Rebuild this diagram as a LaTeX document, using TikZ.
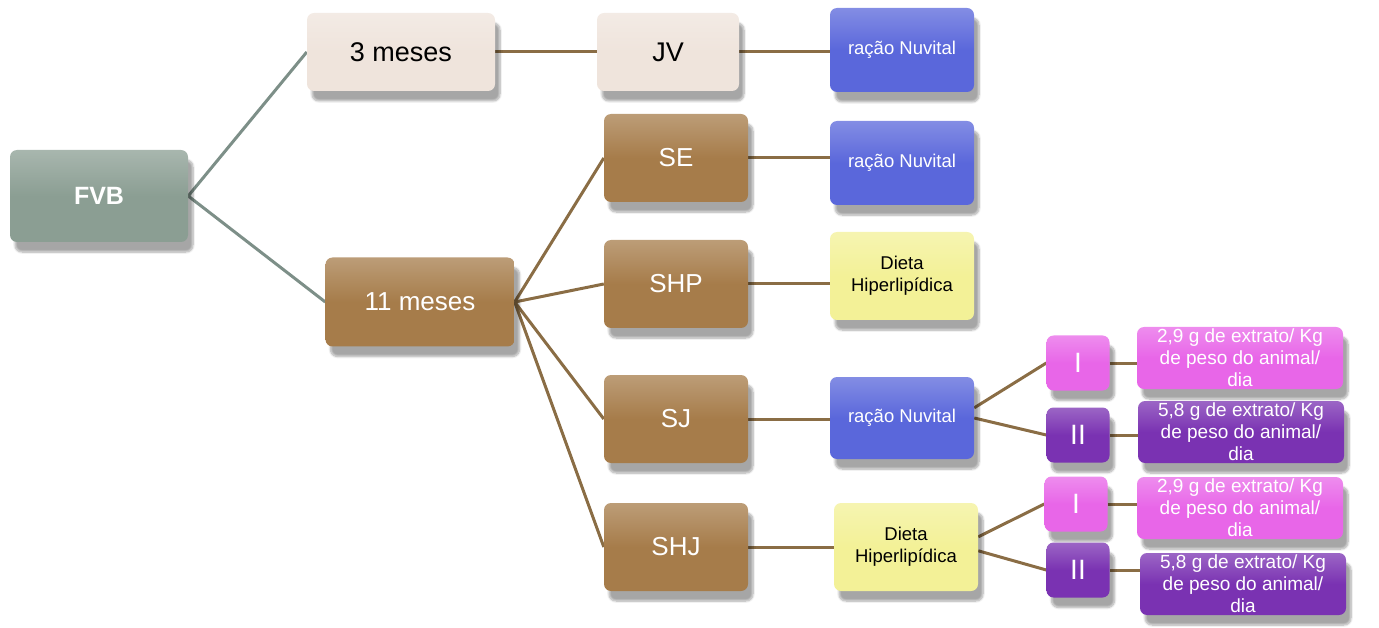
\documentclass[tikz,border=0pt]{standalone}
\usepackage{fontspec}
\setmainfont{Liberation Sans}
\usetikzlibrary{shadows.blur,backgrounds}

\definecolor{fvbgreen}{HTML}{8B9E93}
\definecolor{beige}{HTML}{EFE4DC}
\definecolor{tan}{HTML}{A67C4A}
\definecolor{nuvblue}{HTML}{5A67DB}
\definecolor{dietyellow}{HTML}{F3F197}
\definecolor{dosepink}{HTML}{E866E8}
\definecolor{dosepurple}{HTML}{7A32B2}
\definecolor{greenline}{HTML}{7D8F88}
\definecolor{brownline}{HTML}{8A6D45}

\begin{document}
\begin{tikzpicture}[
  x=1pt,y=-1pt,
  box/.style={rounded corners=7pt,inner sep=0pt,align=center,
    blur shadow={shadow xshift=5pt,shadow yshift=-10pt,shadow blur steps=8,shadow opacity=35}},
  glossy/.style={box,top color=#1!75!white,bottom color=#1,middle color=#1},
  root/.style={glossy=fvbgreen,text=white,font=\fontsize{25}{28}\selectfont\bfseries,minimum width=178pt,minimum height=92pt},
  age/.style={glossy=beige,text=black,font=\fontsize{27}{30}\selectfont,minimum height=78pt},
  group/.style={glossy=tan,text=white,font=\fontsize{26}{30}\selectfont,minimum width=144pt,minimum height=88pt},
  feed/.style={glossy=nuvblue,text=white,font=\fontsize{18.5}{21}\selectfont,minimum width=144pt,minimum height=84pt},
  diet/.style={glossy=dietyellow,text=black,font=\fontsize{18.5}{22}\selectfont,minimum width=144pt,minimum height=88pt},
  dose/.style={glossy=#1,text=white,font=\fontsize{28}{30}\selectfont,minimum width=63pt,minimum height=55pt},
  dosetext/.style={glossy=#1,text=white,font=\fontsize{19}{22}\selectfont,minimum width=206pt,minimum height=62pt},
  gline/.style={draw=greenline,line width=3pt},
  bline/.style={draw=brownline,line width=3pt}
]
\useasboundingbox (0,0) rectangle (1379,628);

% ---- root and ages ----
\node[root] (fvb) at (99,196) {FVB};
\node[age,minimum width=188pt] (m3) at (401,52) {3 meses};
\node[group,minimum width=189pt,minimum height=89pt] (m11) at (420,302) {11 meses};

% ---- groups ----
\node[age,minimum width=142pt] (jv) at (668,52) {JV};
\node[group] (se) at (676,158) {SE};
\node[group] (shp) at (676,284) {SHP};
\node[group] (sj) at (676,419) {SJ};
\node[group] (shj) at (676,547) {SHJ};

% ---- diets ----
\node[feed] (rn1) at (902,50) {ração Nuvital};
\node[feed] (rn2) at (902,163) {ração Nuvital};
\node[diet] (dh1) at (902,276) {Dieta\\Hiperlipídica};
\node[feed,minimum height=82pt] (rn3) at (902,418) {ração Nuvital};
\node[diet] (dh2) at (906,547) {Dieta\\Hiperlipídica};

% ---- doses ----
\node[dose=dosepink] (sj1) at (1078,363) {I};
\node[dose=dosepurple] (sj2) at (1078,435) {II};
\node[dose=dosepink] (shj1) at (1076,504) {I};
\node[dose=dosepurple] (shj2) at (1078,570) {II};

\node[dosetext=dosepink] (sj1t) at (1240,358) {2,9 g de extrato/ Kg\\de peso do animal/\\dia};
\node[dosetext=dosepurple] (sj2t) at (1241,432) {5,8 g de extrato/ Kg\\de peso do animal/\\dia};
\node[dosetext=dosepink] (shj1t) at (1240,508) {2,9 g de extrato/ Kg\\de peso do animal/\\dia};
\node[dosetext=dosepurple] (shj2t) at (1243,584) {5,8 g de extrato/ Kg\\de peso do animal/\\dia};

% ---- connectors ----
\begin{scope}[on background layer]
\draw[gline] (fvb.east) -- (m3.west);
\draw[gline] (fvb.east) -- (m11.west);
\draw[bline] (m3.east) -- (jv.west);
\draw[bline] (jv.east) -- (jv.east -| rn1.west);
\foreach \g in {se,shp,sj,shj}
  \draw[bline] (m11.east) -- (\g.west);
\draw[bline] (se.east) -- (se.east -| rn2.west);
\draw[bline] (shp.east) -- (shp.east -| dh1.west);
\draw[bline] (sj.east) -- (sj.east -| rn3.west);
\draw[bline] (shj.east) -- (shj.east -| dh2.west);
\draw[bline] (rn3.8) -- (sj1.west);
\draw[bline] (rn3.east) -- (sj2.west);
\draw[bline] (dh2.8) -- (shj1.west);
\draw[bline] (dh2.-3) -- (shj2.west);
\draw[bline] (sj1.east) -- (sj1.east -| sj1t.west);
\draw[bline] (sj2.east) -- (sj2.east -| sj2t.west);
\draw[bline] (shj1.east) -- (shj1.east -| shj1t.west);
\draw[bline] (shj2.east) -- (shj2.east -| shj2t.west);
\end{scope}
\end{tikzpicture}
\end{document}
